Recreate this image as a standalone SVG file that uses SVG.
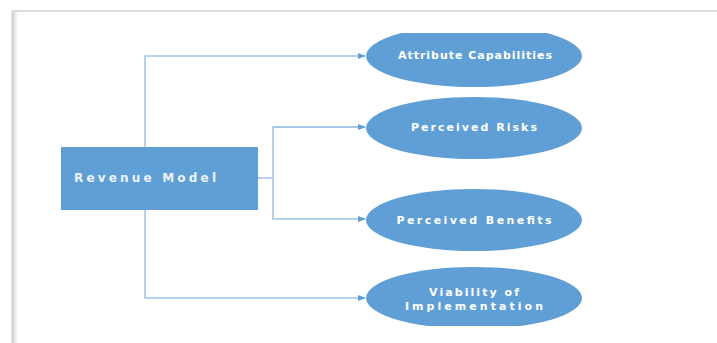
<svg xmlns="http://www.w3.org/2000/svg" width="717" height="343" viewBox="0 0 717 343">
<defs>
<style>
.node{fill:#5F9FD6;}
.lbl{fill:#ffffff;font-family:"DejaVu Sans",Verdana,sans-serif;font-size:11px;font-weight:bold;text-anchor:middle;}
.lblr{fill:#eef4fb;font-family:"DejaVu Sans",Verdana,sans-serif;font-size:12px;font-weight:bold;}
.con{fill:none;stroke:#9DC3E6;stroke-width:1.5;}
</style>
<marker id="ah" markerWidth="8" markerHeight="6" refX="7" refY="3" orient="auto" markerUnits="userSpaceOnUse">
<path d="M0,0 L8,3 L0,6 z" fill="#5F9FD6"/>
</marker>
<clipPath id="clip"><rect x="0" y="33" width="717" height="293"/></clipPath>
<linearGradient id="sh" x1="0" x2="1" y1="0" y2="0">
<stop offset="0" stop-color="#d0d0d0"/><stop offset="1" stop-color="#ffffff"/>
</linearGradient>
</defs>
<rect width="717" height="343" fill="#ffffff"/>
<g id="frame">
<rect x="12" y="12" width="6" height="331" fill="url(#sh)"/>
<line x1="12" y1="11" x2="717" y2="11" stroke="#dcdcdc" stroke-width="2"/>
<line x1="12.5" y1="11" x2="12.5" y2="343" stroke="#cfcfcf" stroke-width="2"/>
</g>
<g id="connectors">
<polyline class="con" points="145,147 145,56 365,56" marker-end="url(#ah)"/>
<polyline class="con" points="145,210 145,298 365,298" marker-end="url(#ah)"/>
<polyline class="con" points="258,178 273,178"/>
<polyline class="con" points="365,127 273,127 273,219 365,219" marker-end="url(#ah)"/>
<line class="con" x1="273" y1="127" x2="365" y2="127" marker-end="url(#ah)"/>
</g>
<g id="revenue-model">
<rect class="node" x="61" y="147" width="197" height="63"/>
<text class="lblr" x="74" y="182" textLength="142" lengthAdjust="spacing">Revenue Model</text>
</g>
<g id="attribute-capabilities" clip-path="url(#clip)">
<ellipse class="node" cx="474" cy="56" rx="108" ry="31"/>
<text class="lbl" x="475" y="59" textLength="154" lengthAdjust="spacing">Attribute Capabilities</text>
</g>
<g id="perceived-risks">
<ellipse class="node" cx="474" cy="128" rx="108" ry="31"/>
<text class="lbl" x="474" y="131" textLength="126" lengthAdjust="spacing">Perceived Risks</text>
</g>
<g id="perceived-benefits">
<ellipse class="node" cx="474" cy="220" rx="108" ry="31"/>
<text class="lbl" x="474" y="224" textLength="155" lengthAdjust="spacing">Perceived Benefits</text>
</g>
<g id="viability" clip-path="url(#clip)">
<ellipse class="node" cx="474" cy="298" rx="108" ry="31"/>
<text class="lbl" x="474" y="296" textLength="90" lengthAdjust="spacing">Viability of</text>
<text class="lbl" x="474" y="310" textLength="138" lengthAdjust="spacing">Implementation</text>
</g>
</svg>
